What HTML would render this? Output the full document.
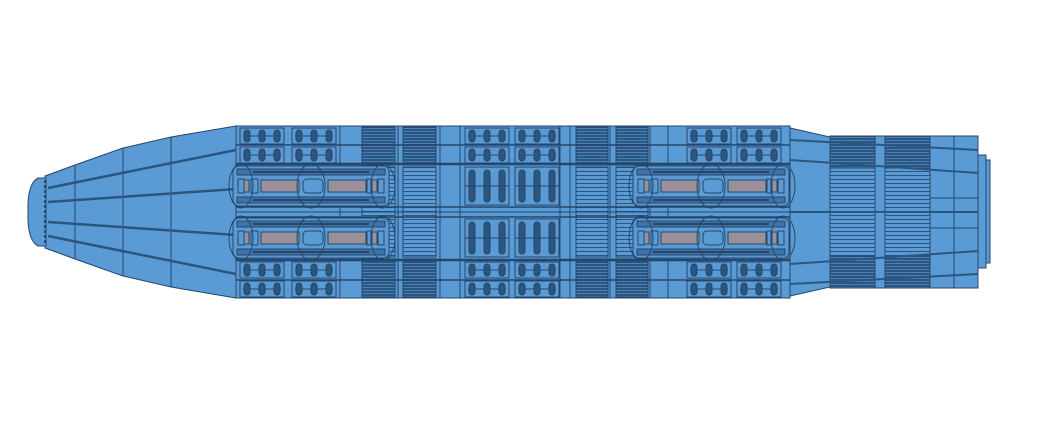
<!DOCTYPE html>
<html><head><meta charset="utf-8"><style>html,body{margin:0;padding:0;background:#fff}svg{display:block}</style></head>
<body>
<svg id="s" width="1040" height="439" viewBox="0 0 1040 439" xmlns="http://www.w3.org/2000/svg">
<defs>
<pattern id="hd" width="4" height="3" patternUnits="userSpaceOnUse"><rect width="4" height="3" fill="#2b5680"/><rect y="2" width="4" height="1" fill="#4a80b8"/></pattern>
<pattern id="hl" width="4" height="4" patternUnits="userSpaceOnUse"><rect width="4" height="4" fill="#5b9bd5"/><rect y="3" width="4" height="1" fill="#2b5680"/></pattern>
</defs>
<g stroke="#24476b" stroke-width="1" fill="#5b9bd5">
<!-- nose -->
<path d="M45,176 L75,165 L123,148 L171,137 L236,126 L236,298 L171,287 L123,276 L75,259 L45,248 Z"/>
<path d="M46,178 L38,178 Q27,184 28,212 Q27,240 38,246 L46,246 Z"/>
<line x1="45" y1="180" x2="45" y2="244" stroke-dasharray="3,2" stroke-width="2"/>
<line x1="75" y1="165" x2="75" y2="259"/><line x1="123" y1="148" x2="123" y2="276"/><line x1="171" y1="137" x2="171" y2="287"/>
<g stroke-width="2.5" stroke="#2b5680">
<line x1="48" y1="188" x2="236" y2="150"/><line x1="48" y1="202" x2="236" y2="189"/>
<line x1="48" y1="222" x2="236" y2="235"/><line x1="48" y1="236" x2="236" y2="274"/>
</g>
<!-- right section -->
<path d="M790,128 L830,137 L830,287 L790,296 Z"/>
<rect x="830" y="136" width="148" height="152"/>
<rect x="978" y="155" width="8" height="113"/>
<rect x="986" y="160" width="4" height="103"/>
<rect x="830" y="136" width="45" height="152" fill="url(#hd)"/>
<rect x="885" y="136" width="45" height="152" fill="url(#hd)"/>
<rect x="830" y="168" width="45" height="88" fill="url(#hl)"/>
<rect x="885" y="168" width="45" height="88" fill="url(#hl)"/>
<line x1="954" y1="136" x2="954" y2="288"/>
<g stroke-width="2" stroke="#2b5680">
<line x1="790" y1="140" x2="978" y2="150"/><line x1="790" y1="160" x2="978" y2="173"/>
<line x1="790" y1="212" x2="978" y2="212"/>
<line x1="790" y1="264" x2="978" y2="251"/><line x1="790" y1="284" x2="978" y2="274"/>
</g>
<line x1="930" y1="198" x2="978" y2="198"/><line x1="930" y1="228" x2="978" y2="228"/>
<!-- main body -->
<rect x="236" y="126" width="554" height="172"/>
</g>
<g id="gen" stroke="#24476b" fill="none"></g>
</svg>
<script>
var g=document.getElementById('gen'),NS='http://www.w3.org/2000/svg';
function e(t,a){var n=document.createElementNS(NS,t);for(var k in a)n.setAttribute(k,a[k]);g.appendChild(n);return n;}
function r(x,y,w,h,f,extra){var a={x:x,y:y,width:w,height:h,fill:f||'none'};if(extra)for(var k in extra)a[k]=extra[k];return e('rect',a);}
function l(x1,y1,x2,y2,w){e('line',{x1:x1,y1:y1,x2:x2,y2:y2,'stroke-width':w||1});}
[[362,33],[403,33],[576,32],[616,32]].forEach(function(c){r(c[0],127,c[1],38,'url(#hd)');r(c[0],259,c[1],38,'url(#hd)');r(c[0],167,c[1],90,'url(#hl)');});
[340,398,440,460,560,570,610,650,668].forEach(function(x){l(x,126,x,298);});
[[145,1.5],[164,2.5],[207,1.5],[212,1],[217,1.5],[260,2.5],[280,1.5]].forEach(function(h){l(236,h[0],790,h[0],h[1]);});
function cluster(x,y,h,n){r(x,y,44,h,'#5b9bd5');l(x+3,y+h/2,x+41,y+h/2);for(var i=0;i<3;i++){var cx=x+7+i*15;r(cx-3,y+2,6,h-4,'#2b5680',{rx:3});}}
[[240],[292],[465],[515],[687],[737]].forEach(function(c){var x=c[0];cluster(x,128,16);cluster(x,147,16);cluster(x,262,16);cluster(x,281,16);});
[465,515].forEach(function(x){r(x,167,44,38,'#5b9bd5');r(x,219,44,38,'#5b9bd5');for(var i=0;i<3;i++){var cx=x+7+i*15;r(cx-3,170,6,32,'#2b5680',{rx:3});r(cx-3,222,6,32,'#2b5680',{rx:3});}l(x,186,x+44,186);l(x,238,x+44,238);});
function eng(x,y){r(x,y,156,40,'#5b9bd5',{rx:6});r(x+4,y+3,148,6,'#3f72a8');r(x+4,y+31,148,6,'#3f72a8');
 l(x+20,y+6,x+136,y+6,2);l(x+20,y+34,x+136,y+34,2);
 r(x+28,y+14,38,12,'#9a9099');r(x+95,y+14,38,12,'#9a9099');r(x+11,y+14,5,12,'#9a9099');r(x+139,y+14,5,12,'#9a9099');
 r(x+5,y+13,6,14,'#5b9bd5');r(x+18,y+13,7,14,'#5b9bd5');r(x+134,y+13,4,14,'#5b9bd5');r(x+145,y+13,6,14,'#5b9bd5');
 r(x+70,y+13,20,14,'#5b9bd5',{rx:4});
 e('ellipse',{cx:x+78,cy:y+20,rx:14,ry:22,fill:'none'});e('ellipse',{cx:x+8,cy:y+20,rx:12,ry:22,fill:'none'});e('ellipse',{cx:x+150,cy:y+20,rx:12,ry:22,fill:'none'});}
eng(233,166);eng(233,218);eng(633,166);eng(633,218);
</script>
</body></html>
